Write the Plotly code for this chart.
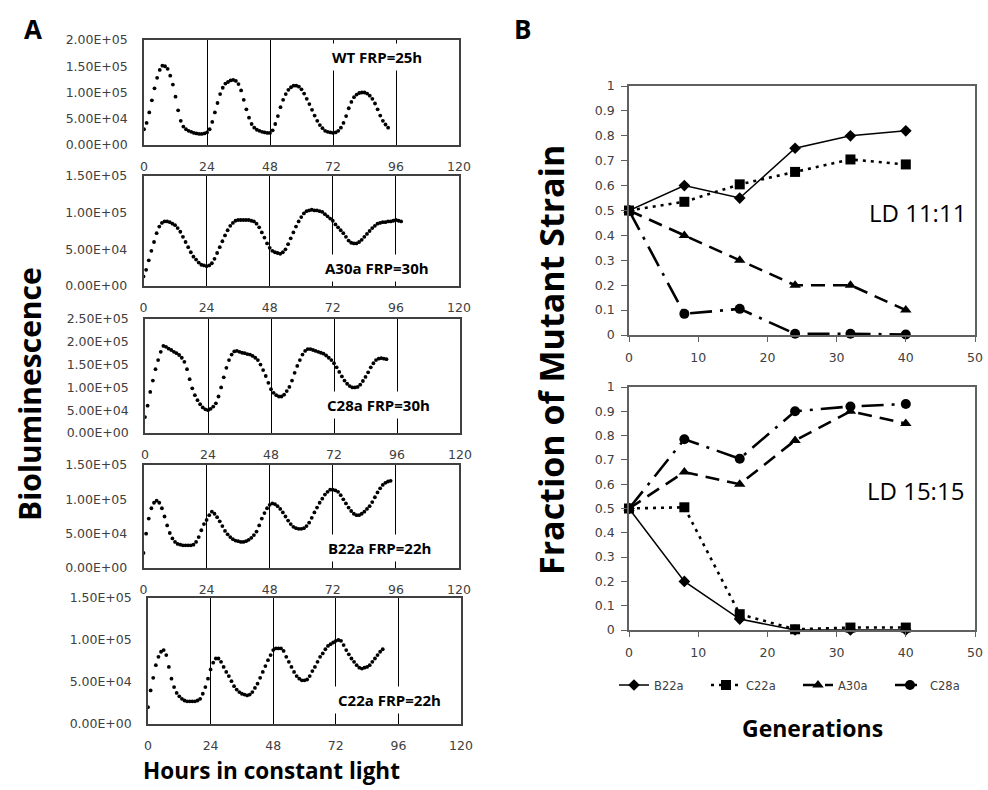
import plotly.graph_objects as go

W, H = 988, 790

def px(x):
    return x / W

def py(y):
    return 1 - y / H

# ---------------- Panel A data (bioluminescence, thousands of counts, hourly) ----------------
wt_k = [30, 42, 62, 85, 108, 128, 143, 151, 150, 145, 132, 115, 92, 66, 46, 35, 30, 27, 25, 23,
        22, 21, 21, 22, 24, 30, 44, 62, 80, 97, 109, 117, 120, 123, 124, 122, 116, 104, 86, 68,
        52, 40, 33, 29, 27, 25, 24, 23, 23, 28, 40, 55, 72, 86, 97, 105, 110, 113, 113, 111,
        106, 98, 88, 78, 67, 56, 46, 38, 32, 27, 25, 24, 23, 24, 27, 33, 42, 55, 70, 82,
        91, 96, 99, 100, 100, 98, 94, 88, 79, 68, 56, 46, 39, 33]
a30a_k = [13, 22, 35, 48, 60, 72, 81, 86, 88, 88, 87, 85, 83, 79, 74, 67, 60, 53, 46, 40,
          36, 32, 29, 28, 27, 28, 31, 37, 45, 53, 61, 69, 76, 82, 86, 89, 90, 90, 90, 90,
          90, 89, 88, 85, 80, 73, 66, 58, 52, 48, 46, 45, 44, 46, 50, 57, 65, 73, 81, 88,
          94, 99, 102, 103, 104, 103, 103, 102, 101, 98, 95, 92, 89, 84, 80, 76, 72, 67, 62, 59,
          58, 58, 60, 63, 67, 71, 75, 79, 82, 85, 86, 87, 87, 88, 88, 89, 90, 89, 88]
c28a_k = [35, 60, 90, 115, 140, 160, 178, 191, 189, 185, 182, 178, 175, 171, 165, 156, 140, 118, 98, 83,
          72, 63, 56, 52, 50, 53, 58, 65, 80, 100, 122, 143, 160, 172, 179, 180, 178, 176, 175, 173,
          172, 169, 165, 160, 150, 138, 125, 110, 96, 88, 83, 80, 80, 84, 92, 101, 115, 132, 147, 160,
          172, 180, 184, 184, 182, 180, 178, 176, 174, 170, 165, 160, 153, 144, 134, 124, 115, 108, 103, 100,
          100, 101, 106, 114, 123, 133, 144, 153, 160, 163, 164, 163, 162]
b22a_k = [22, 50, 72, 87, 95, 98, 95, 87, 75, 62, 51, 43, 38, 35, 34, 33, 33, 33, 33, 34,
          38, 45, 55, 64, 70, 77, 82, 79, 74, 68, 61, 54, 49, 45, 42, 40, 39, 38, 38, 39,
          41, 44, 48, 53, 62, 72, 80, 87, 92, 94, 93, 90, 86, 81, 75, 69, 64, 60, 58, 57,
          57, 58, 61, 66, 73, 81, 88, 95, 101, 107, 111, 114, 114, 113, 111, 106, 100, 94, 88, 83,
          79, 77, 77, 79, 82, 86, 90, 96, 103, 110, 116, 121, 124, 126, 127]
c22a_k = [20, 40, 55, 70, 80, 86, 88, 82, 68, 54, 44, 37, 33, 30, 28, 27, 27, 27, 27, 28,
          30, 36, 44, 54, 65, 73, 78, 78, 74, 68, 62, 57, 51, 45, 41, 38, 36, 35, 34, 35,
          38, 43, 48, 55, 62, 69, 76, 82, 88, 90, 90, 90, 87, 80, 74, 68, 62, 57, 54, 52,
          52, 53, 57, 63, 68, 74, 80, 84, 89, 93, 95, 97, 99, 100, 99, 94, 88, 83, 78, 74,
          70, 67, 66, 67, 68, 70, 74, 78, 82, 86, 89]

a_series = [wt_k, a30a_k, c28a_k, b22a_k, c22a_k]
a_labels = ["WT FRP=25h", "A30a FRP=30h", "C28a FRP=30h", "B22a FRP=22h", "C22a FRP=22h"]
a_ymax_k = [200, 150, 250, 150, 150]
hour_ticks = [0, 24, 48, 72, 96, 120]

# ---------------- Panel B data (fraction of mutant strain) ----------------
generations = [0, 8, 16, 24, 32, 40]
strains = ["B22a", "C22a", "A30a", "C28a"]
ld11 = {
    "B22a": [0.50, 0.60, 0.55, 0.75, 0.80, 0.82],
    "C22a": [0.50, 0.535, 0.605, 0.655, 0.705, 0.685],
    "A30a": [0.50, 0.40, 0.30, 0.20, 0.20, 0.10],
    "C28a": [0.50, 0.085, 0.105, 0.005, 0.005, 0.002],
}
ld15 = {
    "B22a": [0.50, 0.20, 0.045, 0.0, 0.0, 0.0],
    "C22a": [0.50, 0.505, 0.065, 0.003, 0.01, 0.01],
    "A30a": [0.50, 0.65, 0.60, 0.78, 0.90, 0.85],
    "C28a": [0.50, 0.785, 0.705, 0.90, 0.92, 0.93],
}
gen_ticks = [0, 10, 20, 30, 40, 50]
frac_ticks = [0, 0.1, 0.2, 0.3, 0.4, 0.5, 0.6, 0.7, 0.8, 0.9, 1]

# ---------------- styling ----------------
TICKFONT = dict(family="DejaVu Sans", size=12.5, color="#404040")
TITLEFONT = "Open Sans"
styles = {
    "B22a": dict(dash="solid", width=1.5, symbol="diamond", size=9),
    "C22a": dict(dash="3px,5px", width=2.6, symbol="square", size=10),
    "A30a": dict(dash="14px,8px", width=2.6, symbol="triangle-up", size=10),
    "C28a": dict(dash="22px,8px,3px,8px", width=2.6, symbol="circle", size=10),
}

fig = go.Figure()

# Panel A subplot pixel boxes: (left, right, top, bottom)
a_boxes = [
    (144, 459, 40, 145),
    (143.5, 459, 176, 286),
    (145, 460, 319, 433),
    (143.5, 459, 465, 568),
    (148, 461, 598, 724),
]
a_label_pos = [(377, 57), (377, 268), (378, 405), (379, 548), (389, 700)]

def note(text, x, y, size, angle=0, **kw):
    return dict(text=text, x=px(x), y=py(y), xref="paper", yref="paper",
                xanchor="center", yanchor="middle", showarrow=False, textangle=angle,
                font=dict(family=TITLEFONT, size=size, color="black"), **kw)

layout_axes = {}
annotations = []
for i, (vals, lab, ymax, box) in enumerate(zip(a_series, a_labels, a_ymax_k, a_boxes)):
    n = i + 1
    xa = "x" if n == 1 else f"x{n}"
    ya = "y" if n == 1 else f"y{n}"
    hours = list(range(len(vals)))
    fig.add_trace(go.Scatter(x=hours, y=vals, mode="markers",
                             marker=dict(size=3.8, color="black"),
                             xaxis=xa, yaxis=ya, showlegend=False))
    l, r, t, b = box
    yticks = list(range(0, ymax + 1, 50))
    layout_axes[f"xaxis{'' if n == 1 else n}"] = dict(
        domain=[px(l), px(r)], range=[0, 120], anchor=ya,
        tickvals=hour_ticks, ticks="", ticklabelstandoff=9,
        showgrid=True, gridcolor="black", gridwidth=1,
        showline=True, linecolor="#404040", linewidth=1.5, mirror=True,
        zeroline=False, tickfont=TICKFONT, fixedrange=True)
    layout_axes[f"yaxis{'' if n == 1 else n}"] = dict(
        domain=[py(b), py(t)], range=[0, ymax], anchor=xa,
        tickvals=yticks, ticktext=[f"{v * 1000:.2E}" for v in yticks],
        ticks="", ticklabelstandoff=12, showgrid=False,
        showline=True, linecolor="#404040", linewidth=1.5, mirror=True,
        zeroline=False, tickfont=TICKFONT, fixedrange=True)
    lx, ly = a_label_pos[i]
    annotations.append(note(f"<b>{lab}</b>", lx, ly, 15, bgcolor="white", borderpad=3))

# Panel B
b_boxes = [(629, 975, 86, 335), (629, 975, 387, 630)]
for j, (data, box) in enumerate(zip([ld11, ld15], b_boxes)):
    n = 6 + j
    xa, ya = f"x{n}", f"y{n}"
    for s in strains:
        st = styles[s]
        fig.add_trace(go.Scatter(
            x=generations, y=data[s], mode="lines+markers", name=s,
            line=dict(color="black", width=st["width"], dash=st["dash"]),
            marker=dict(symbol=st["symbol"], size=st["size"], color="black"),
            xaxis=xa, yaxis=ya, showlegend=(j == 0), cliponaxis=False))
    l, r, t, b = box
    layout_axes[f"xaxis{n}"] = dict(
        domain=[px(l), px(r)], range=[0, 50], anchor=ya,
        tickvals=gen_ticks, ticks="outside", ticklen=5, tickcolor="#606060",
        ticklabelstandoff=5, showgrid=False,
        showline=True, linecolor="#606060", linewidth=1.5, mirror=True,
        zeroline=False, tickfont=TICKFONT, fixedrange=True)
    layout_axes[f"yaxis{n}"] = dict(
        domain=[py(b), py(t)], range=[0, 1], anchor=xa,
        tickvals=frac_ticks, ticks="outside", ticklen=6, tickcolor="#606060",
        ticklabelstandoff=4, showgrid=False,
        showline=True, linecolor="#606060", linewidth=1.5, mirror=True,
        zeroline=False, tickfont=TICKFONT, fixedrange=True)

annotations += [
    note("LD 11:11", 917, 212, 24),
    note("LD 15:15", 915, 490, 24),
    note("<b>A</b>", 33, 29, 26),
    note("<b>B</b>", 522, 29, 26),
    note("<b>Bioluminescence</b>", 29, 394, 30, angle=-90),
    note("<b>Hours in constant light</b>", 271, 770, 22.5),
    note("<b>Fraction of Mutant Strain</b>", 551, 360, 34, angle=-90),
    note("<b>Generations</b>", 812, 728, 23),
]

fig.update_layout(
    width=W, height=H, margin=dict(l=0, r=0, t=0, b=0, autoexpand=False),
    paper_bgcolor="white", plot_bgcolor="white",
    showlegend=True,
    legend=dict(orientation="h", x=px(614), y=py(685), xanchor="left", yanchor="middle",
                font=dict(family="DejaVu Sans", size=11.5, color="#404040"),
                bgcolor="rgba(0,0,0,0)", itemsizing="trace", entrywidth=47, tracegroupgap=0),
    annotations=annotations,
    **layout_axes,
)

fig.write_html("out.html")
